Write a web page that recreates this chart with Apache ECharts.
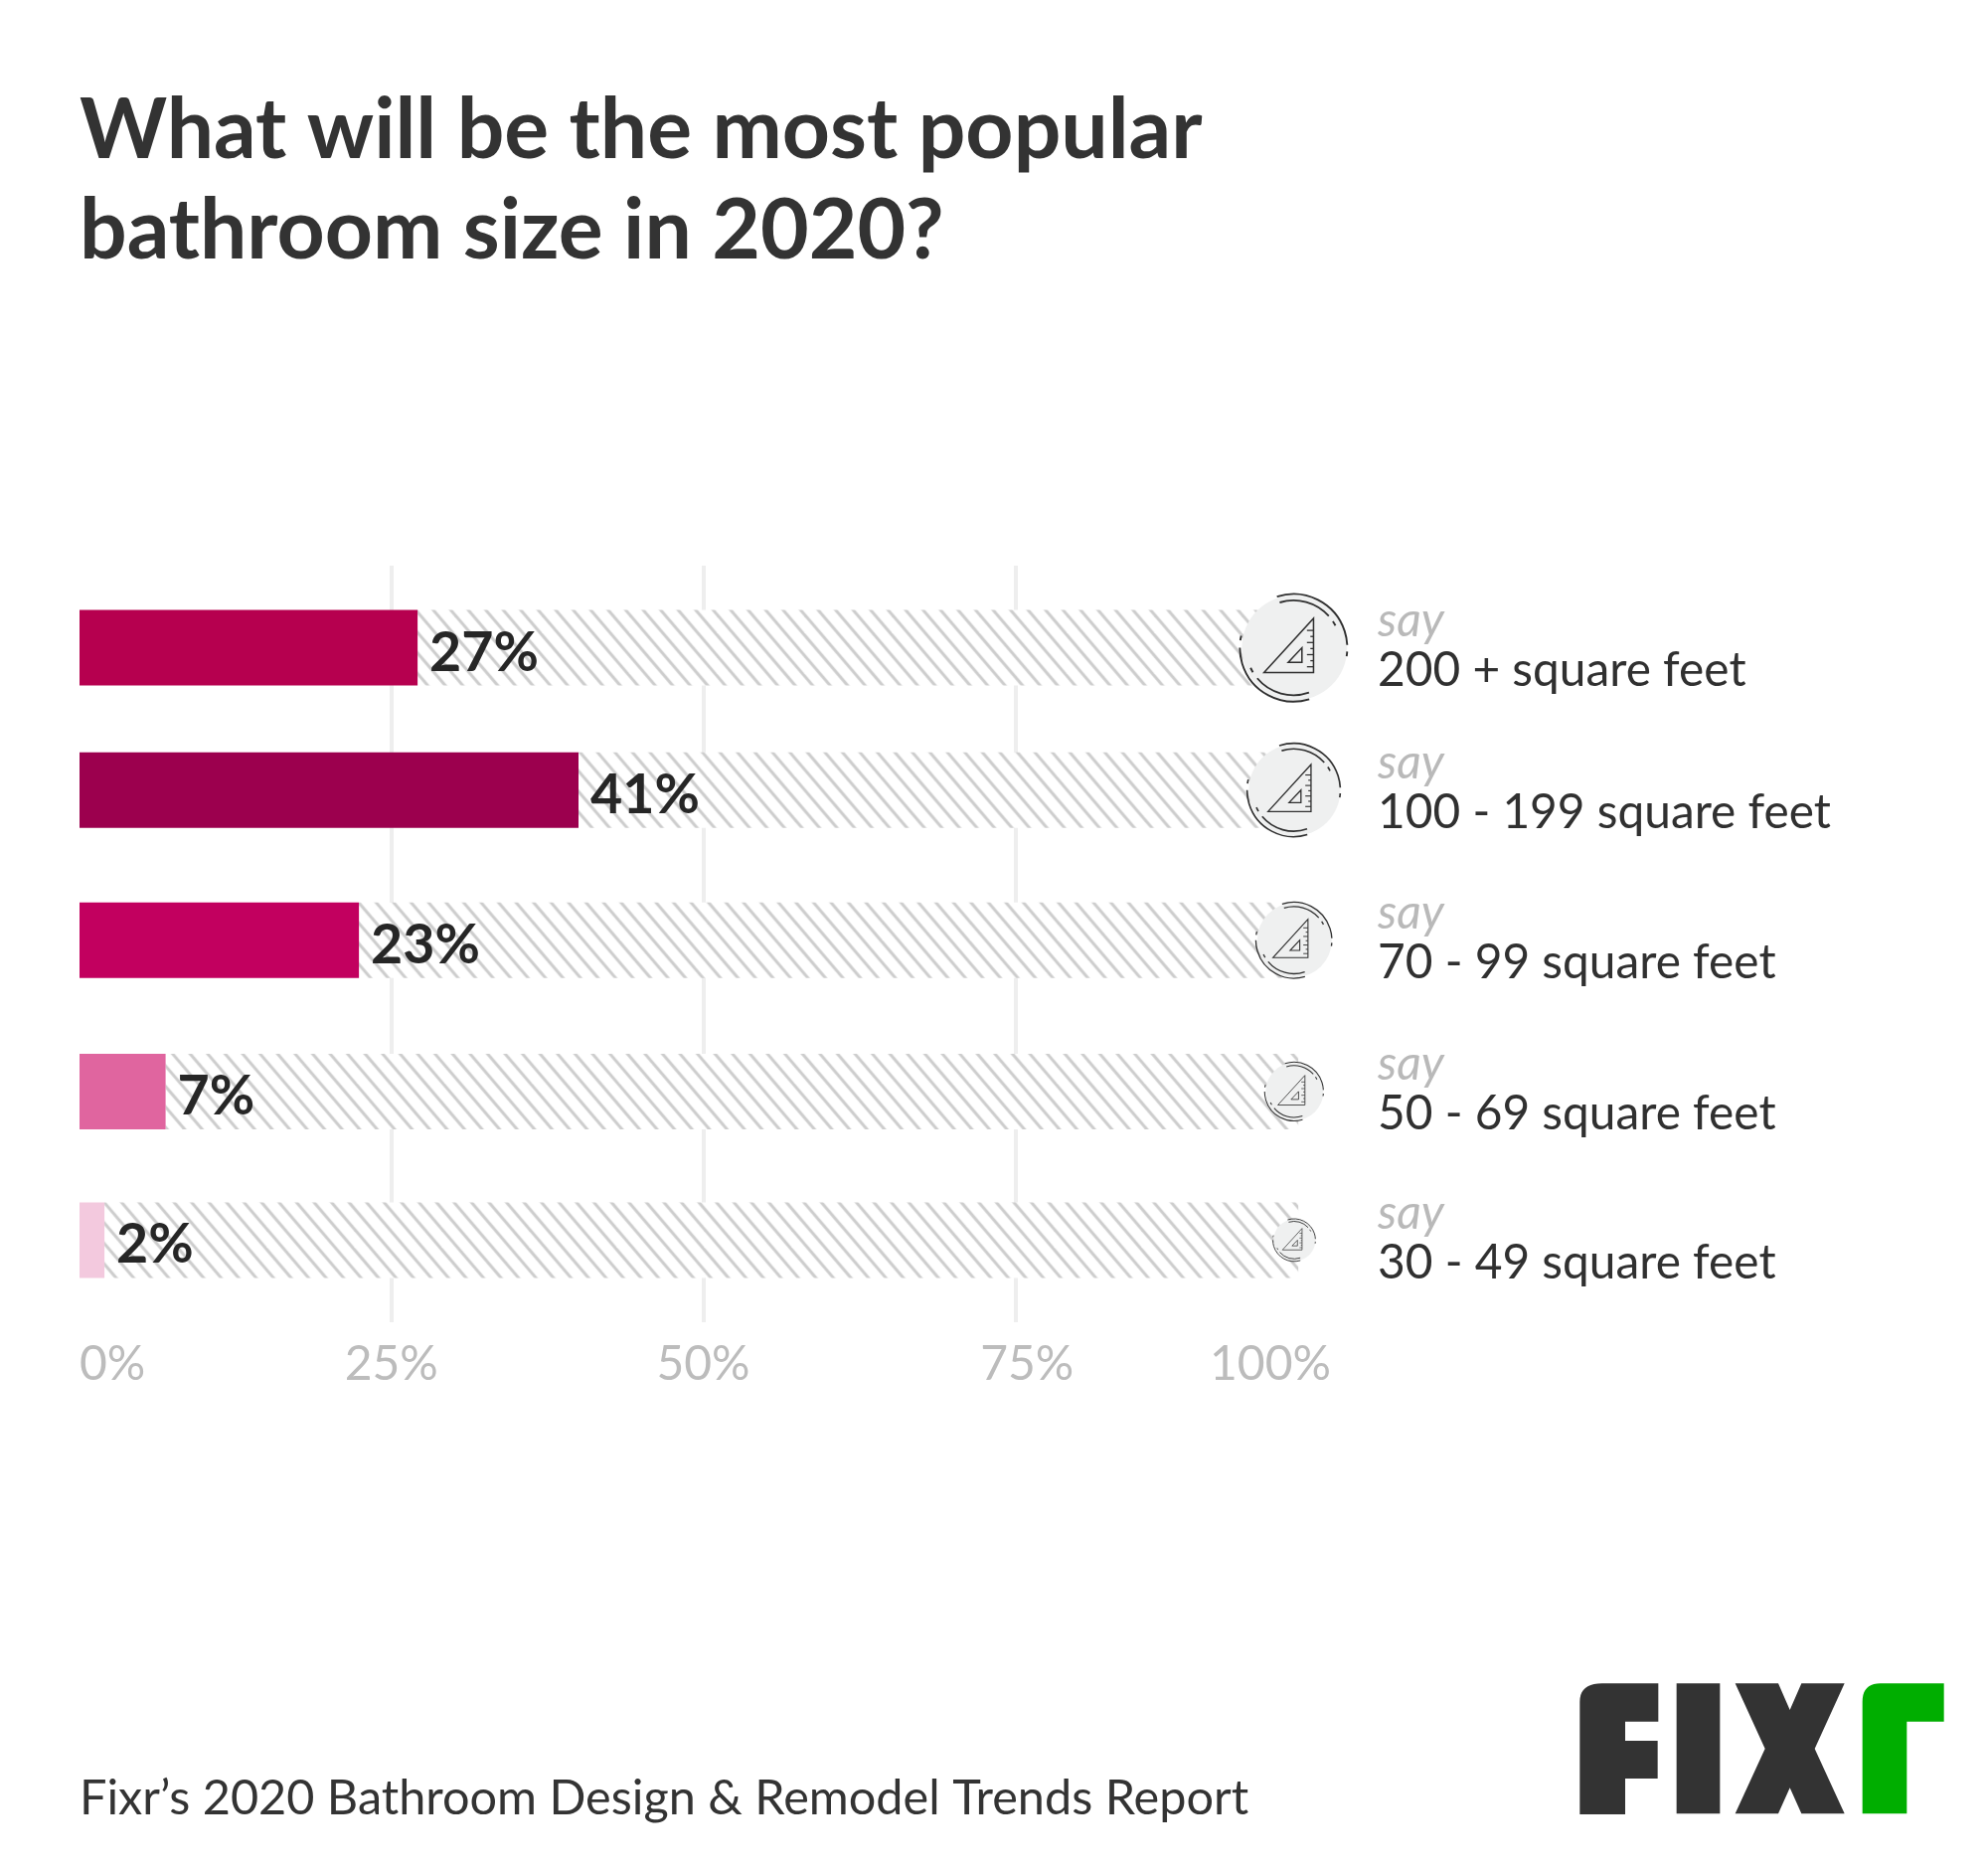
<!DOCTYPE html>
<html><head><meta charset="utf-8">
<style>html,body{margin:0;padding:0;background:#fff}#c{width:2000px;height:1883px}</style>
<script src="https://cdn.jsdelivr.net/npm/echarts@6/dist/echarts.min.js"></script>
</head><body><div id="c"></div>
<script>
const categories = ['200 + square feet','100 - 199 square feet','70 - 99 square feet','50 - 69 square feet','30 - 49 square feet'];
const drawnValues = [27.1, 40, 22.4, 6.9, 2];
const valueLabels = ['27%','41%','23%','7%','2%'];
const barColors = ['#b6004f','#9c004e','#c2005f','#e0659f','#f3c9de'];
const tickLabels = ['0%','25%','50%','75%','100%'];
const prefixLabel = 'say';
const titleText = 'What will be the most popular\nbathroom size in 2020?';
const footerText = 'Fixr\u2019s 2020 Bathroom Design & Remodel Trends Report';

// layout constants
const hatchEnd = 97.7;
const iconCenter = 97.4;
const rowNudge = [6.5, -2.6, -3.8, -3.8, -6.5];
const hatchPhase = [17.3, 7.4, 7.6, 7.3, 4.3];
const iconRadius = [53, 46, 37.5, 29, 21];
const barH = 76;

function hatchTile(){
  const w = 88, h = 103, c = document.createElement('canvas');
  c.width = w; c.height = h;
  const g = c.getContext('2d');
  g.fillStyle = '#fff'; g.fillRect(0,0,w,h);
  g.strokeStyle = '#cdcdcd'; g.lineWidth = 3;
  for (let k=-7;k<=6;k++) {
    const x0 = k*17.6;
    g.beginPath(); g.moveTo(x0-8.8,-10.3); g.lineTo(x0+w+8.8,h+10.3); g.stroke();
  }
  return c;
}
const tile = hatchTile();

function arc(cx,cy,r,a0,a1,lw){
  return {type:'arc',shape:{cx,cy,r,startAngle:a0*Math.PI/180,endAngle:a1*Math.PI/180,clockwise:true},
    style:{fill:null,stroke:'#2f2f2f',lineWidth:lw,lineCap:'butt'},silent:true};
}
function icon(cx,cy,R){
  const lw = Math.max(0.9,R/28), tw = lw*0.8, S=[];
  const P = (x,y)=>[cx+x*R,cy+y*R];
  S.push({type:'circle',shape:{cx,cy,r:R},style:{fill:'#eff0f0'}});
  const rcx=cx-1*R/53, R1=R*1.02, R2=R*0.9;
  S.push(arc(rcx,cy,R1,-108,-3,lw), arc(rcx,cy,R1,4,9,lw), arc(rcx,cy,R1,73,180,lw), arc(rcx,cy,R1,188,193,lw));
  S.push(arc(rcx,cy,R2,-107,-42,lw), arc(rcx,cy,R2,-34,-28,lw), arc(rcx,cy,R2,71,140,lw), arc(rcx,cy,R2,149,155,lw));
  S.push({type:'polygon',shape:{points:[P(.36,-.56),P(.36,.47),P(-.58,.47)]},style:{fill:null,stroke:'#2f2f2f',lineWidth:tw}});
  S.push({type:'polygon',shape:{points:[P(.14,0),P(.14,.275),P(-.12,.275)]},style:{fill:null,stroke:'#2f2f2f',lineWidth:tw}});
  for (let k=0;k<7;k++){
    const t=-.33+.115*k, a=P(.36,t), b=P(k%2?.3:.235,t);
    S.push({type:'line',shape:{x1:a[0],y1:a[1],x2:b[0],y2:b[1]},style:{stroke:'#2f2f2f',lineWidth:tw*0.85}});
  }
  return S;
}

function renderRow(params, api){
  const i = api.value(2), v = api.value(0);
  const c0 = api.coord([0,i]);
  const y = c0[1] + rowNudge[i];
  const xEnd = api.coord([v,i])[0];
  const xHatch = api.coord([hatchEnd,i])[0];
  const xIcon = api.coord([iconCenter,i])[0];
  const x100 = api.coord([100,i])[0];
  const kids = [
    {type:'rect',shape:{x:xEnd,y:y-barH/2,width:xHatch-xEnd,height:barH},
      style:{fill:{image:tile,repeat:'repeat',x:hatchPhase[i],y:0}}},
    ...icon(xIcon,y,iconRadius[i]),
    {type:'rect',shape:{x:c0[0],y:y-barH/2,width:xEnd-c0[0],height:barH},style:{fill:barColors[i]}},
    {type:'text',style:{x:xEnd+12,y:y+5,text:valueLabels[i],fill:'#262626',font:'bold 55.5px Lato',textAlign:'left',textVerticalAlign:'middle'}},
    {type:'text',style:{x:x100+51,y:y-27,text:prefixLabel,fill:'#b9b9b9',font:'italic 400 48px Lato',textAlign:'left',textVerticalAlign:'middle'}},
    {type:'text',style:{x:x100+51,y:y+23,text:categories[i],fill:'#303030',font:'400 47.8px Lato',textAlign:'left',textVerticalAlign:'middle'}}
  ];
  return {type:'group',children:kids};
}

const chart = echarts.init(document.getElementById('c'));
const X = p=>1570+p/3, Y=p=>1670+p/3;
const pts = a=>a.map(q=>[X(q[0]),Y(q[1])]);
const dark='#333333', green='#00ae00';
function corner(x0,y0,cx,cy,x1,y1){const o=[];for(let t=0;t<=1.001;t+=0.1){const u=1-t;o.push([u*u*x0+2*u*t*cx+t*t*x1,u*u*y0+2*u*t*cy+t*t*y1]);}return o;}
const tickFont = {fontFamily:'Lato',fontWeight:400,fontSize:48,color:'#bcbcbc'};
chart.setOption({
  backgroundColor:'#fff',
  animation:false,
  title:[
    {text:titleText,left:80,top:81,padding:0,textStyle:{fontFamily:'Lato',fontWeight:'bold',fontSize:84,lineHeight:101,color:'#333333'}},
    {text:footerText,left:80,top:1785,padding:0,textStyle:{fontFamily:'Lato',fontWeight:400,fontSize:48.6,color:'#333333'}}
  ],
  grid:{left:80,width:1255,top:569,height:761},
  xAxis:{type:'value',min:0,max:100,interval:25,
    axisLine:{show:false},axisTick:{show:false},
    splitLine:{show:true,showMinLine:false,showMaxLine:false,lineStyle:{color:'#eeeeee',width:4}},
    axisLabel:{margin:19,alignMinLabel:'left',alignMaxLabel:'center',
      formatter:v=>v===75?'{s|'+tickLabels[3]+'}':v===100?'{e|'+tickLabels[4]+'}':tickLabels[v/25],
      rich:{s:{...tickFont,padding:[0,0,0,24]},e:{...tickFont,padding:[0,114,0,0]}},
      ...tickFont}},
  yAxis:{type:'category',inverse:true,data:categories,show:false},
  series:[{type:'custom',coordinateSystem:'cartesian2d',renderItem:renderRow,
    encode:{x:0,y:1},
    data:drawnValues.map((v,i)=>[v,categories[i],i]),z:5}],
  graphic:[
    {type:'polygon',shape:{points:pts([...corner(58,125,58,70,125,70),[295,70],[295,185],[195,185],[195,243],[293,243],[293,357],[195,357],[195,465],[58,465]])},style:{fill:dark}},
    {type:'polygon',shape:{points:pts([[350,70],[481,70],[481,463],[350,463]])},style:{fill:dark}},
    {type:'polygon',shape:{points:pts([[527,70],[657,70],[692,150],[727,70],[857,70],[767,267],[857,463],[727,463],[692,385],[657,463],[527,463],[617,267]])},style:{fill:dark}},
    {type:'polygon',shape:{points:pts([...corner(911,125,911,70,965,70),[1157,70],[1157,185],[1045,185],[1045,463],[911,463]])},style:{fill:green}}
  ]
});
</script></body></html>
